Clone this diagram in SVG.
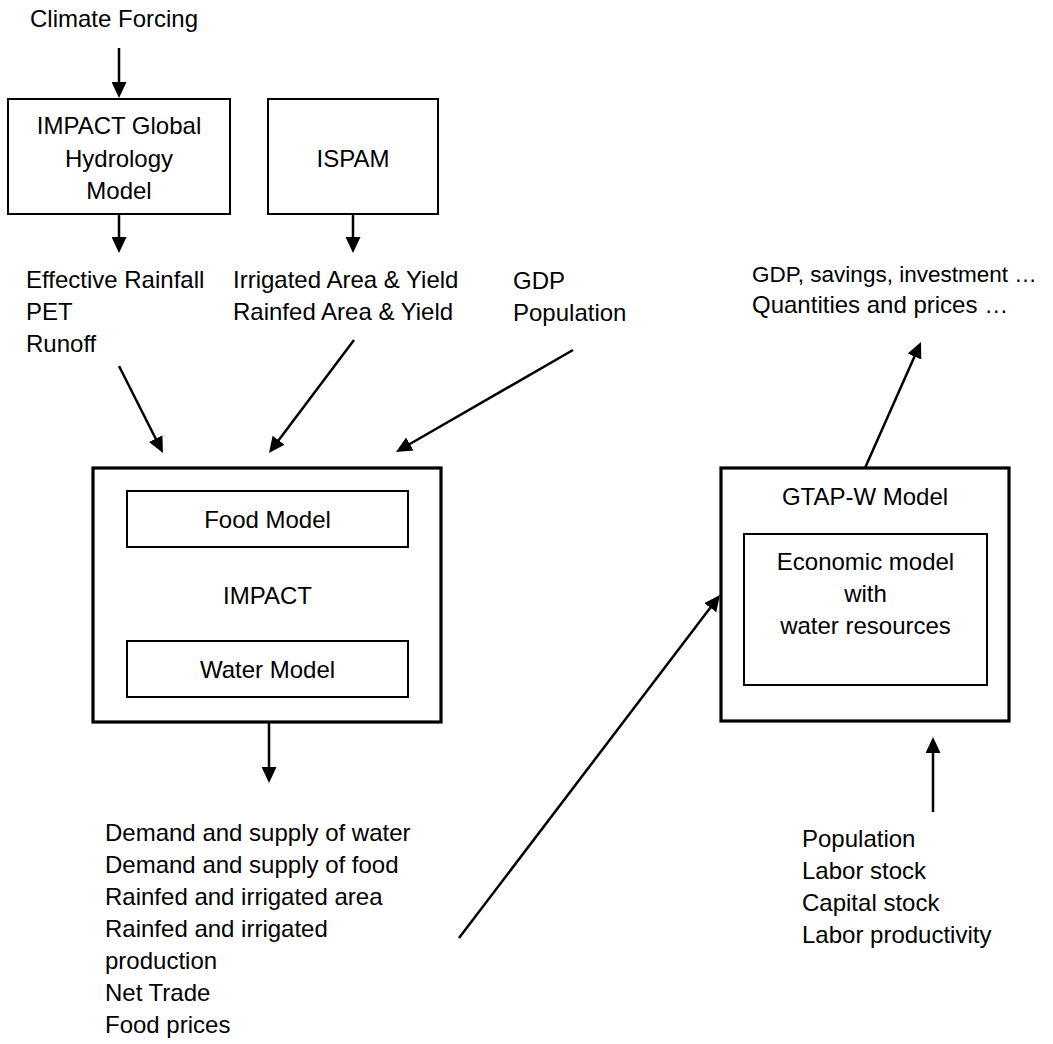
<svg xmlns="http://www.w3.org/2000/svg" width="1053" height="1044" viewBox="0 0 1053 1044">
<style>
text{font-family:"Liberation Sans",Arial,sans-serif;font-size:24px;fill:#000}
.c{text-anchor:middle}
.box{fill:none;stroke:#000;stroke-width:2}
.outer{fill:none;stroke:#000;stroke-width:3.2}
.arr{fill:none;stroke:#000;stroke-width:2.5;marker-end:url(#ah)}
</style>
<defs>
<marker id="ah" markerUnits="userSpaceOnUse" markerWidth="16" markerHeight="15" refX="5" refY="7.5" orient="auto" viewBox="0 0 16 15">
<path d="M0,0 L16,7.5 L0,15 z" fill="#000"/>
</marker>
</defs>
<rect width="1053" height="1044" fill="#fff"/>

<g id="climate-forcing"><text x="30" y="27">Climate Forcing</text></g>

<g id="hydrology-model">
<rect class="box" x="8" y="99" width="222" height="115"/>
<text class="c" x="119" y="134">IMPACT Global</text>
<text class="c" x="119" y="167">Hydrology</text>
<text class="c" x="119" y="199">Model</text>
</g>

<g id="ispam">
<rect class="box" x="268" y="99" width="170" height="115"/>
<text class="c" x="353" y="167">ISPAM</text>
</g>

<g id="hydrology-outputs">
<text x="26" y="288">Effective Rainfall</text>
<text x="26" y="320">PET</text>
<text x="26" y="352">Runoff</text>
</g>

<g id="ispam-outputs">
<text x="233" y="288">Irrigated Area &amp; Yield</text>
<text x="233" y="320">Rainfed Area &amp; Yield</text>
</g>

<g id="gdp-population">
<text x="513" y="289">GDP</text>
<text x="513" y="321">Population</text>
</g>

<g id="impact">
<rect class="outer" x="93" y="468" width="348" height="254"/>
<g id="food-model">
<rect class="box" x="127" y="491" width="281" height="56"/>
<text class="c" x="267.5" y="528">Food Model</text>
</g>
<text class="c" x="267.5" y="604">IMPACT</text>
<g id="water-model">
<rect class="box" x="127" y="641" width="281" height="56"/>
<text class="c" x="267.5" y="678">Water Model</text>
</g>
</g>

<g id="impact-outputs">
<text x="105" y="841">Demand and supply of water</text>
<text x="105" y="873">Demand and supply of food</text>
<text x="105" y="905">Rainfed and irrigated area</text>
<text x="105" y="937">Rainfed and irrigated</text>
<text x="105" y="969">production</text>
<text x="105" y="1001">Net Trade</text>
<text x="105" y="1033">Food prices</text>
</g>

<g id="gtap-w">
<rect class="outer" x="721" y="468" width="288" height="253"/>
<text class="c" x="865" y="505">GTAP-W Model</text>
<g id="economic-model">
<rect class="box" x="744" y="534" width="243" height="151"/>
<text class="c" x="865.5" y="570">Economic model</text>
<text class="c" x="865.5" y="602">with</text>
<text class="c" x="865.5" y="634">water resources</text>
</g>
</g>

<g id="gtap-outputs">
<text x="752" y="282" style="font-size:22.5px">GDP, savings, investment …</text>
<text x="752" y="313">Quantities and prices …</text>
</g>

<g id="gtap-inputs">
<text x="802" y="847">Population</text>
<text x="802" y="879">Labor stock</text>
<text x="802" y="911">Capital stock</text>
<text x="802" y="943">Labor productivity</text>
</g>

<g id="connectors">
<line class="arr" x1="119" y1="48" x2="119" y2="87"/>
<line class="arr" x1="119" y1="214" x2="119" y2="242"/>
<line class="arr" x1="353" y1="214" x2="353" y2="242"/>
<line class="arr" x1="119" y1="366" x2="158" y2="443.2"/>
<line class="arr" x1="354" y1="340" x2="275.6" y2="444.2"/>
<line class="arr" x1="573" y1="350" x2="405.5" y2="446.5"/>
<line class="arr" x1="269" y1="722" x2="269" y2="772"/>
<line class="arr" x1="459" y1="938" x2="713.3" y2="603.8"/>
<line class="arr" x1="865" y1="468" x2="916.5" y2="352"/>
<line class="arr" x1="933" y1="812" x2="933" y2="748"/>
</g>
</svg>
